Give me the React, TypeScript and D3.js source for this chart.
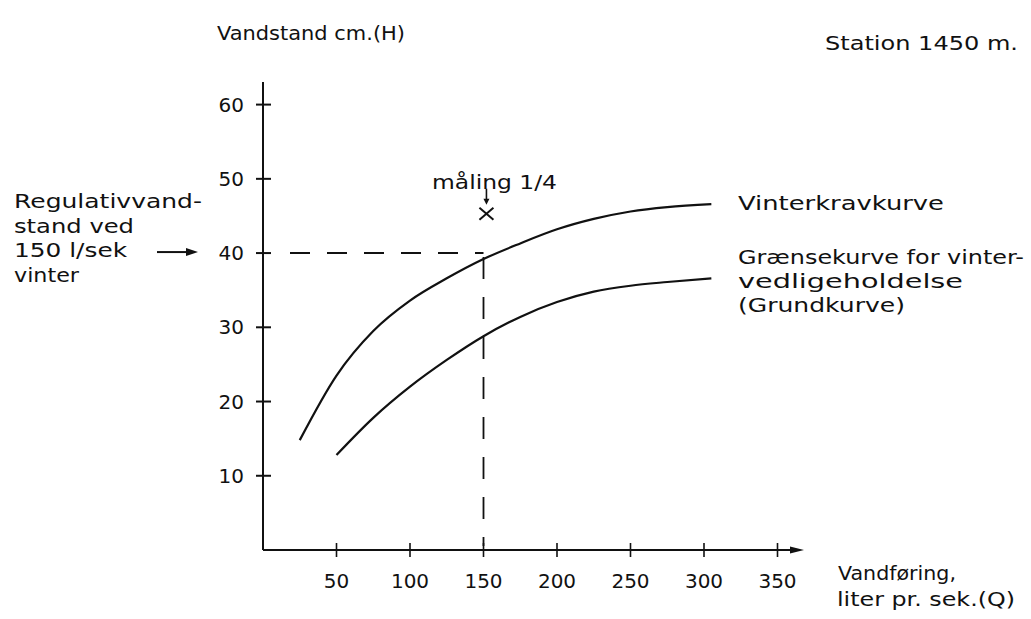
import React from "react";
import * as d3 from "d3";

// ---- data ----
const qTicks = [50, 100, 150, 200, 250, 300, 350];
const hTicks = [10, 20, 30, 40, 50, 60];

const kravQ = [25, 50, 75, 100, 125, 150, 175, 200, 225, 250, 275, 305];
const kravH = [14.8, 23.5, 29.5, 33.6, 36.6, 39.2, 41.3, 43.2, 44.6, 45.6, 46.2, 46.6];

const grundQ = [50, 75, 100, 125, 150, 175, 200, 225, 250, 275, 305];
const grundH = [12.8, 17.8, 22.0, 25.6, 28.8, 31.4, 33.4, 34.8, 35.6, 36.1, 36.6];

const malingQ = 152;
const malingH = 45.3;
const regQ = 150;
const regH = 40;

const leftNote = ["Regulativvand-", "stand ved", "150 l/sek", "vinter"];
const leftNoteW = [188, 120, 113, 65];
const grundLabel = ["Grænsekurve for vinter-", "vedligeholdelse", "(Grundkurve)"];
const grundLabelW = [286, 225, 167];

const W = 1031;
const H = 619;
const FONT = "'DejaVu Sans', sans-serif";

export default function App() {
  const x = d3.scaleLinear().domain([0, 350]).range([263, 777.5]);
  const y = d3.scaleLinear().domain([0, 60]).range([550, 104.6]);

  const line = d3
    .line<[number, number]>()
    .x((d) => x(d[0]))
    .y((d) => y(d[1]))
    .curve(d3.curveMonotoneX);

  const krav = kravQ.map((q, i) => [q, kravH[i]] as [number, number]);
  const grund = grundQ.map((q, i) => [q, grundH[i]] as [number, number]);

  const x0 = x(0);
  const y0 = y(0);
  const stroke = "#111";
  const txt = { fontFamily: FONT, fontSize: 19, fill: "#111" } as const;

  const mx = x(malingQ);
  const my = y(malingH);

  return (
    <svg width={W} height={H} style={{ position: "absolute", left: 0, top: 0, background: "#fff" }}>
      <rect width={W} height={H} fill="#fff" />
      {/* axes */}
      <line x1={x0} y1={y0} x2={x0} y2={82} stroke={stroke} strokeWidth={2} />
      <line x1={x0} y1={y0} x2={796} y2={y0} stroke={stroke} strokeWidth={2} />
      <path d={`M${804},${y0} L${790},${y0 - 3.5} L${790},${y0 + 3.5} Z`} fill={stroke} />
      {/* y ticks */}
      {hTicks.map((h) => (
        <g key={"h" + h}>
          <line x1={x0 - 7} x2={x0 + 8} y1={y(h)} y2={y(h)} stroke={stroke} strokeWidth={2} />
          <text x={244} y={y(h) + 7} textAnchor="end" {...txt} fontSize={20}>
            {h}
          </text>
        </g>
      ))}
      {/* x ticks */}
      {qTicks.map((q) => (
        <g key={"q" + q}>
          <line x1={x(q)} x2={x(q)} y1={y0 - 7} y2={y0 + 7} stroke={stroke} strokeWidth={1.6} />
          <text x={x(q)} y={588} textAnchor="middle" {...txt} fontSize={20}>
            {q}
          </text>
        </g>
      ))}
      {/* dashed reference lines */}
      <line
        x1={x0 + 27}
        x2={x(regQ)}
        y1={y(regH)}
        y2={y(regH)}
        stroke={stroke}
        strokeWidth={2}
        strokeDasharray="20 17"
      />
      <line
        x1={x(regQ)}
        x2={x(regQ)}
        y1={y(regH) + 4}
        y2={y0 - 4}
        stroke={stroke}
        strokeWidth={1.8}
        strokeDasharray="22 18"
      />
      {/* curves */}
      <path d={line(krav) || ""} fill="none" stroke={stroke} strokeWidth={2.2} />
      <path d={line(grund) || ""} fill="none" stroke={stroke} strokeWidth={2.2} />
      {/* measurement */}
      <line x1={mx - 7} y1={my - 6} x2={mx + 7} y2={my + 6} stroke={stroke} strokeWidth={2} />
      <line x1={mx - 7} y1={my + 6} x2={mx + 7} y2={my - 6} stroke={stroke} strokeWidth={2} />
      <line x1={mx} y1={my - 25} x2={mx} y2={my - 12} stroke={stroke} strokeWidth={1.6} />
      <path d={`M${mx},${my - 9} L${mx - 3},${my - 15} L${mx + 3},${my - 15} Z`} fill={stroke} />
      <text x={432} y={189} textLength={125} lengthAdjust="spacingAndGlyphs" {...txt}>
        måling 1/4
      </text>
      {/* titles */}
      <text x={217} y={40} textLength={188} lengthAdjust="spacingAndGlyphs" {...txt}>
        Vandstand cm.(H)
      </text>
      <text x={825} y={50} textLength={193} lengthAdjust="spacingAndGlyphs" {...txt}>
        Station 1450 m.
      </text>
      {/* left note */}
      {leftNote.map((s, i) => (
        <text key={s} x={14} y={208 + i * 24.5} textLength={leftNoteW[i]} lengthAdjust="spacingAndGlyphs" {...txt}>
          {s}
        </text>
      ))}
      <line x1={157} x2={188} y1={y(regH) - 1} y2={y(regH) - 1} stroke={stroke} strokeWidth={2} />
      <path
        d={`M${198},${y(regH) - 1} L${186},${y(regH) - 5} L${186},${y(regH) + 3} Z`}
        fill={stroke}
      />
      {/* curve labels */}
      <text x={738} y={210} textLength={206} lengthAdjust="spacingAndGlyphs" {...txt}>
        Vinterkravkurve
      </text>
      {grundLabel.map((s, i) => (
        <text key={s} x={738} y={264 + i * 24} textLength={grundLabelW[i]} lengthAdjust="spacingAndGlyphs" {...txt}>
          {s}
        </text>
      ))}
      {/* x axis title */}
      <text x={838} y={580} textLength={118} lengthAdjust="spacingAndGlyphs" {...txt}>
        Vandføring,
      </text>
      <text x={837} y={606} textLength={178} lengthAdjust="spacingAndGlyphs" {...txt}>
        liter pr. sek.(Q)
      </text>
    </svg>
  );
}
